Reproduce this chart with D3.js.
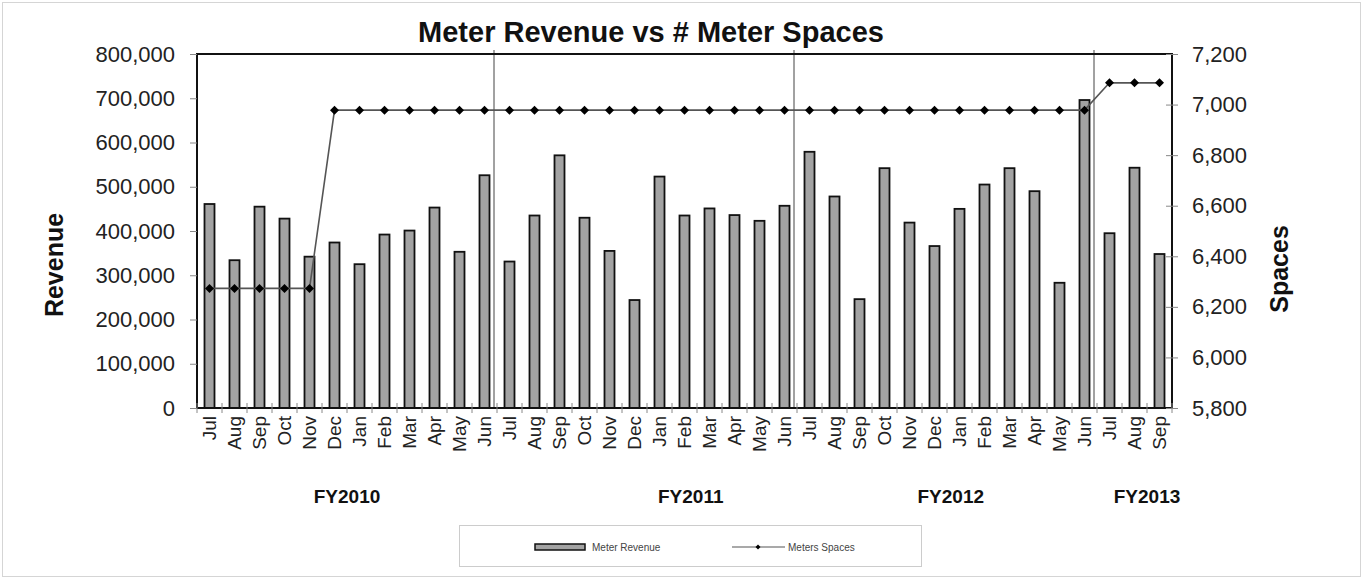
<!DOCTYPE html>
<html>
<head>
<meta charset="utf-8">
<script src="https://cdn.jsdelivr.net/npm/d3@7"></script>
<style>
    body { margin: 0; background: #fff; }
    svg { display: block; font-family: "Liberation Sans", Arial, sans-serif; }
</style>
</head>
<body>
<svg></svg>
<script>
const fiscalYears = ["FY2010", "FY2011", "FY2012", "FY2013"]

const months = [
    "Jul", "Aug", "Sep", "Oct", "Nov", "Dec", "Jan", "Feb", "Mar", "Apr", "May", "Jun",
    "Jul", "Aug", "Sep", "Oct", "Nov", "Dec", "Jan", "Feb", "Mar", "Apr", "May", "Jun",
    "Jul", "Aug", "Sep", "Oct", "Nov", "Dec", "Jan", "Feb", "Mar", "Apr", "May", "Jun",
    "Jul", "Aug", "Sep"
]

const revenue = [
    461000, 334000, 455000, 428000, 342000, 374000, 325000, 392000, 401000, 453000, 353000, 526000,
    331000, 435000, 571000, 430000, 355000, 244000, 523000, 435000, 451000, 436000, 423000, 457000,
    579000, 478000, 246000, 542000, 419000, 366000, 450000, 505000, 542000, 490000, 283000, 696000,
    395000, 543000, 348000
]

const spaces = [
    6273, 6273, 6273, 6273, 6273, 6978, 6978, 6978, 6978, 6978, 6978, 6978,
    6978, 6978, 6978, 6978, 6978, 6978, 6978, 6978, 6978, 6978, 6978, 6978,
    6978, 6978, 6978, 6978, 6978, 6978, 6978, 6978, 6978, 6978, 6978, 6978,
    7086, 7086, 7086
]

const revenueTicks = [0, 100000, 200000, 300000, 400000, 500000, 600000, 700000, 800000]
const spacesTicks = [5800, 6000, 6200, 6400, 6600, 6800, 7000, 7200]

// where the FY captions sit, in band steps from the left edge
const fyLabelAt = [6, 19.75, 30.15, 38]
const fyBreaks = [12, 24, 36]

const
    width = 1363,
    height = 577,
    margin = { top: 54, right: 191, bottom: 169, left: 197 }

const data = months.map((m, i) => ({ i, month: m, revenue: revenue[i], spaces: spaces[i] }))

const x = d3.scaleBand()
    .domain(data.map(d => d.i))
    .range([margin.left, width - margin.right])
    .padding(0)

const xPos = d3.scaleLinear()
    .domain([0, data.length])
    .range([margin.left, width - margin.right])

const yL = d3.scaleLinear()
    .domain([0, 800000])
    .range([height - margin.bottom, margin.top])

const yR = d3.scaleLinear()
    .domain([5800, 7200])
    .range([height - margin.bottom, margin.top])

const svg = d3.select("svg")
    .attr("width", width)
    .attr("height", height)

// outer dotted frame
svg.append("rect")
    .attr("x", 2.5).attr("y", 2.5)
    .attr("width", width - 5).attr("height", height - 3)
    .attr("fill", "none")
    .attr("stroke", "#aaa")
    .attr("stroke-dasharray", "1,1")

svg.append("text")
    .attr("x", 651).attr("y", 42)
    .attr("text-anchor", "middle")
    .attr("font-size", 29)
    .attr("font-weight", "bold")
    .attr("fill", "#111")
    .text("Meter Revenue vs # Meter Spaces")

// bars
const barW = x.step() * 0.4
svg.append("g")
    .attr("class", "bars")
    .selectAll("rect")
    .data(data)
    .join("rect")
    .attr("x", d => x(d.i) + (x.bandwidth() - barW) / 2)
    .attr("y", d => yL(d.revenue))
    .attr("width", barW)
    .attr("height", d => yL(0) - yL(d.revenue))
    .attr("fill", "#a3a3a3")
    .attr("stroke", "#111")
    .attr("stroke-width", 1.8)

// fiscal year separators
svg.append("g")
    .selectAll("line")
    .data(fyBreaks)
    .join("line")
    .attr("x1", d => xPos(d) - 3).attr("x2", d => xPos(d) - 3)
    .attr("y1", margin.top - 4).attr("y2", yL(0))
    .attr("stroke", "#444")
    .attr("stroke-width", 1)

// plot frame
svg.append("rect")
    .attr("x", margin.left).attr("y", margin.top)
    .attr("width", width - margin.left - margin.right)
    .attr("height", height - margin.top - margin.bottom)
    .attr("fill", "none")
    .attr("stroke", "#111")
    .attr("stroke-width", 2)

// line series
const line = d3.line()
    .x(d => x(d.i) + x.bandwidth() / 2)
    .y(d => yR(d.spaces))

svg.append("path")
    .datum(data)
    .attr("d", line)
    .attr("fill", "none")
    .attr("stroke", "#555")
    .attr("stroke-width", 1.6)

const diamond = "M0,-4.5L4.5,0L0,4.5L-4.5,0Z"
svg.append("g")
    .selectAll("path")
    .data(data)
    .join("path")
    .attr("transform", d => `translate(${x(d.i) + x.bandwidth() / 2},${yR(d.spaces)})`)
    .attr("d", diamond)
    .attr("fill", "#000")

// left axis
svg.append("g")
    .attr("transform", `translate(${margin.left},0)`)
    .call(d3.axisLeft(yL).tickValues(revenueTicks).tickFormat(d3.format(",")).tickSize(7).tickPadding(15))
    .call(g => g.select(".domain").remove())
    .call(g => g.selectAll(".tick line").attr("stroke", "#888"))
    .call(g => g.selectAll(".tick text")
        .attr("font-size", 22)
        .attr("fill", "#222")
        .attr("font-family", "Liberation Sans, Arial, sans-serif"))

// right axis
svg.append("g")
    .attr("transform", `translate(${width - margin.right},0)`)
    .call(d3.axisRight(yR).tickValues(spacesTicks).tickFormat(d3.format(",")).tickSize(6).tickPadding(14))
    .call(g => g.select(".domain").remove())
    .call(g => g.selectAll(".tick line").attr("stroke", "#888").attr("x1", -6))
    .call(g => g.selectAll(".tick text")
        .attr("font-size", 22)
        .attr("fill", "#222")
        .attr("font-family", "Liberation Sans, Arial, sans-serif"))

// bottom ticks on band edges
svg.append("g")
    .selectAll("line")
    .data(d3.range(data.length + 1))
    .join("line")
    .attr("x1", d => xPos(d)).attr("x2", d => xPos(d))
    .attr("y1", yL(0) - 5).attr("y2", yL(0) + 5)
    .attr("stroke", "#888")

// month labels
svg.append("g")
    .attr("transform", `translate(0,${yL(0)})`)
    .call(d3.axisBottom(x).tickSize(0).tickFormat(i => months[i]))
    .call(g => g.select(".domain").remove())
    .call(g => g.selectAll(".tick text")
        .attr("transform", "rotate(-90)")
        .attr("text-anchor", "end")
        .attr("x", -8)
        .attr("y", 0)
        .attr("dy", "0.32em")
        .attr("font-size", 19)
        .attr("fill", "#222")
        .attr("font-family", "Liberation Sans, Arial, sans-serif"))

// fiscal year captions
svg.append("g")
    .selectAll("text")
    .data(fiscalYears)
    .join("text")
    .attr("x", (d, i) => xPos(fyLabelAt[i]))
    .attr("y", 503)
    .attr("text-anchor", "middle")
    .attr("font-size", 19)
    .attr("font-weight", "bold")
    .attr("fill", "#111")
    .text(d => d)

// axis titles
svg.append("text")
    .attr("transform", "translate(63,265) rotate(-90)")
    .attr("text-anchor", "middle")
    .attr("font-size", 25)
    .attr("font-weight", "bold")
    .attr("fill", "#111")
    .text("Revenue")

svg.append("text")
    .attr("transform", "translate(1288,269) rotate(-90)")
    .attr("text-anchor", "middle")
    .attr("font-size", 25)
    .attr("font-weight", "bold")
    .attr("fill", "#111")
    .text("Spaces")

// legend
const legend = svg.append("g")

legend.append("rect")
    .attr("x", 459.5).attr("y", 525.5)
    .attr("width", 462).attr("height", 41)
    .attr("fill", "none")
    .attr("stroke", "#999")
    .attr("stroke-dasharray", "1,1")

legend.append("rect")
    .attr("x", 535).attr("y", 544)
    .attr("width", 50).attr("height", 6)
    .attr("fill", "#a3a3a3")
    .attr("stroke", "#111")
    .attr("stroke-width", 1.5)

legend.append("text")
    .attr("x", 592).attr("y", 551)
    .attr("font-size", 10)
    .attr("fill", "#444")
    .text("Meter Revenue")

legend.append("line")
    .attr("x1", 732).attr("x2", 785)
    .attr("y1", 547).attr("y2", 547)
    .attr("stroke", "#555")
    .attr("stroke-width", 1.2)

legend.append("path")
    .attr("transform", "translate(758,547)")
    .attr("d", "M0,-2.5L2.5,0L0,2.5L-2.5,0Z")
    .attr("fill", "#000")

legend.append("text")
    .attr("x", 788).attr("y", 551)
    .attr("font-size", 10)
    .attr("fill", "#444")
    .text("Meters Spaces")
</script>
</body>
</html>
